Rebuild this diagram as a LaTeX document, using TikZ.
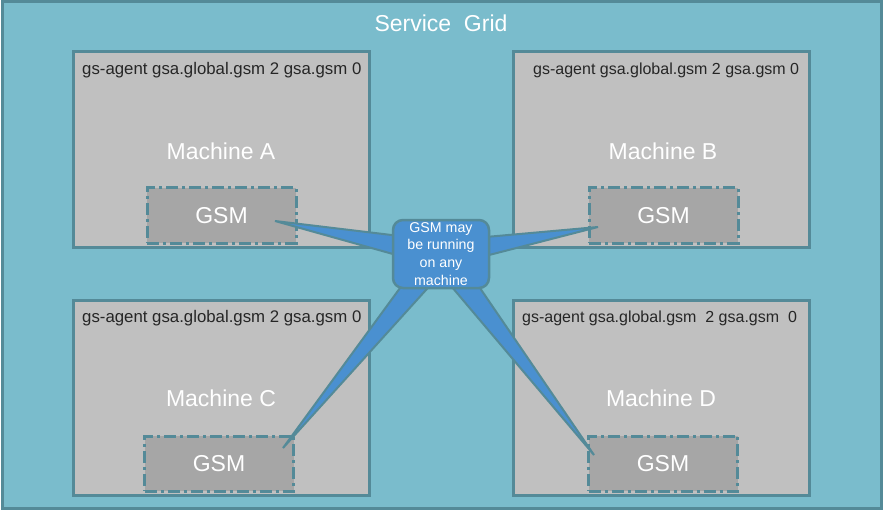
\documentclass[tikz,border=0pt]{standalone}
\usepackage{fontspec}
\setmainfont{Liberation Sans}
\usetikzlibrary{calc}
\definecolor{gridblue}{RGB}{122,188,204}
\definecolor{edgeteal}{RGB}{84,138,152}
\definecolor{boxgrey}{RGB}{192,192,192}
\definecolor{gsmgrey}{RGB}{166,166,166}
\definecolor{noteblue}{RGB}{74,144,208}
\begin{document}
\begin{tikzpicture}[x=1pt, y=-1pt,
  machine/.style={draw=edgeteal, fill=boxgrey, line width=3pt, rectangle, minimum width=296pt, minimum height=195pt},
  gsm/.style={draw=edgeteal, fill=gsmgrey, line width=3pt, dash pattern=on 12pt off 4pt on 3pt off 4pt, minimum width=149pt, minimum height=55pt, text=white, font=\fontsize{23}{27}\selectfont},
  title/.style={text=white, font=\fontsize{23}{27}\selectfont},
  agent/.style={anchor=base west, inner sep=0pt, text=black!85, font=\fontsize{16.8}{19}\selectfont},
  spike/.style={fill=noteblue, draw=edgeteal, line width=2pt}]
\useasboundingbox (0,0) rectangle (892,524);

\node[draw=edgeteal, fill=gridblue, line width=3pt, minimum width=879pt, minimum height=506pt] (grid) at (441.5,255) {};
\node[title] (gridname) at (441,23) {Service\ \ Grid};

\node[machine] (ma) at (221.5,149.5) {};
\node[machine] (mb) at (661,149.5) {};
\node[machine] (mc) at (221,398) {};
\node[machine] (md) at (661,398) {};

\node[agent] (aa) at (82,75) {gs-agent gsa.global.gsm 2 gsa.gsm 0};
\node[agent, font=\fontsize{16}{19}\selectfont] (ab) at (533,75) {gs-agent gsa.global.gsm 2 gsa.gsm 0};
\node[agent] (ac) at (82,322) {gs-agent gsa.global.gsm 2 gsa.gsm 0};
\node[agent, font=\fontsize{16}{19}\selectfont] (ad) at (522,322) {gs-agent gsa.global.gsm\ \ 2 gsa.gsm\ \ 0};

\node[title] (la) at (221,151) {Machine A};
\node[title] (lb) at (663,151) {Machine B};
\node[title] (lc) at (221,398) {Machine C};
\node[title] (ld) at (661,398) {Machine D};

\node[gsm] (ga) at (221.5,215.5) {GSM};
\node[gsm] (gb) at (663.5,215.5) {GSM};
\node[gsm] (gc) at (219,463.5) {GSM};
\node[gsm] (gd) at (663,463.5) {GSM};

% where the callout points
\coordinate (tipa) at (275,221);
\coordinate (tipb) at (598,227);
\coordinate (tipc) at (283,448);
\coordinate (tipd) at (594,455);
\coordinate (hub) at (441,254);

\foreach \t in {tipa,tipb,tipc,tipd}
  \filldraw[spike] ($(hub)!13pt!90:(\t)$) -- (\t) -- ($(hub)!13pt!-90:(\t)$) -- cycle;

\node[draw=edgeteal, fill=noteblue, line width=2.5pt, rounded corners=10pt, minimum width=96pt, minimum height=68pt, inner sep=1pt, text=white, align=center, font=\fontsize{14.2}{17.8}\selectfont] (note) at (hub) {GSM may\\be running\\on any\\machine};
\end{tikzpicture}
\end{document}
